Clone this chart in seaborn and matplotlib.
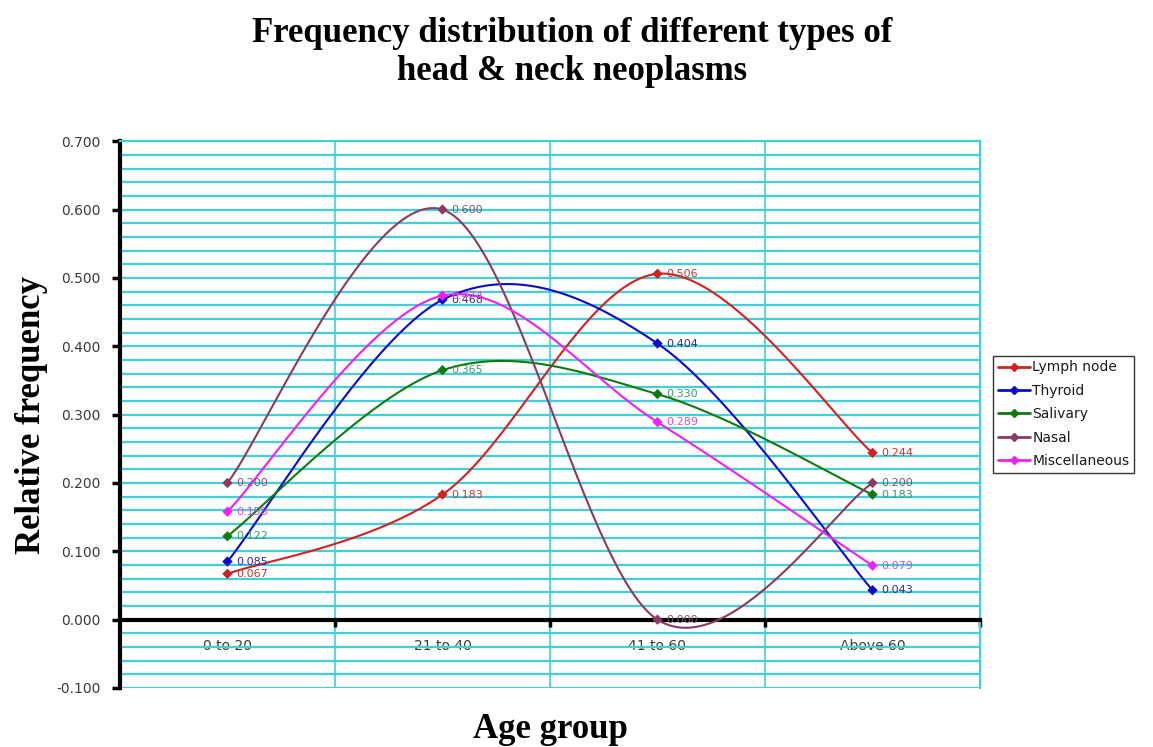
import numpy as np
import pandas as pd
import matplotlib
matplotlib.use("Agg")
import matplotlib.pyplot as plt
import seaborn as sns

# Chart data
age_groups = ["0 to 20", "21 to 40", "41 to 60", "Above 60"]
lymph_node = [0.067, 0.183, 0.506, 0.244]
thyroid = [0.085, 0.468, 0.404, 0.043]
salivary = [0.122, 0.365, 0.330, 0.183]
nasal = [0.200, 0.600, 0.000, 0.200]
misc = [0.158, 0.474, 0.289, 0.079]

series_names = ["Lymph node", "Thyroid", "Salivary", "Nasal", "Miscellaneous"]
series_values = [lymph_node, thyroid, salivary, nasal, misc]
line_colors = ["#D42020", "#0A0ACC", "#0F7A0F", "#8B3A62", "#F020F0"]
label_colors = ["#C03838", "#2A2A9A", "#3A9A6A", "#7A5575", "#D050D0"]

sns.set_style("white")
plt.rcParams['font.family'] = ['DejaVu Sans']

GRID = "#3FD0D8"
SERIF = "Liberation Serif"


def excel_smooth(xs, ys, n=60):
    """Bezier smoothing like Excel's 'smoothed line' (Catmull-Rom, tension 1/6)."""
    pts = np.column_stack([xs, ys]).astype(float)
    out = []
    for i in range(len(pts) - 1):
        p0 = pts[i - 1] if i > 0 else pts[i]
        p1 = pts[i]
        p2 = pts[i + 1]
        p3 = pts[i + 2] if i + 2 < len(pts) else pts[i + 1]
        c1 = p1 + (p2 - p0) / 6
        c2 = p2 - (p3 - p1) / 6
        t = np.linspace(0, 1, n)[:, None]
        seg = ((1 - t) ** 3) * p1 + 3 * ((1 - t) ** 2) * t * c1 + 3 * (1 - t) * t ** 2 * c2 + t ** 3 * p2
        out.append(seg if i == 0 else seg[1:])
    return np.vstack(out)


xpos = np.arange(len(age_groups)) + 0.5

# long-form frames for seaborn
pts_rows, curve_rows = [], []
for name, vals in zip(series_names, series_values):
    for x, v in zip(xpos, vals):
        pts_rows.append({"x": x, "y": v, "series": name})
    for cx, cy in excel_smooth(xpos, vals):
        curve_rows.append({"x": cx, "y": cy, "series": name})
df_pts = pd.DataFrame(pts_rows)
df_curve = pd.DataFrame(curve_rows)
palette = dict(zip(series_names, line_colors))

fig = plt.figure(figsize=(11.53, 7.47), dpi=100)
ax = fig.add_axes([0.104, 0.079, 0.746, 0.732])

sns.lineplot(data=df_curve, x="x", y="y", hue="series", palette=palette, sort=False,
             estimator=None, linewidth=1.5, ax=ax, legend=False, zorder=3)
sns.scatterplot(data=df_pts, x="x", y="y", hue="series", palette=palette, marker="D",
                s=28, edgecolor="none", ax=ax, legend=False, zorder=4)

for name, vals, col in zip(series_names, series_values, label_colors):
    for x, v in zip(xpos, vals):
        ax.text(x + 0.04, v, f"{v:.3f}", color=col, fontsize=8, va="center", ha="left", zorder=5)

ax.set_xlim(0, 4)
ax.set_ylim(-0.1, 0.7)

# y axis
yt = np.arange(-0.1, 0.701, 0.1)
ax.set_yticks(yt)
ax.set_yticklabels([f"{v:.3f}" for v in yt])
ax.set_yticks(np.arange(-0.1, 0.701, 0.02), minor=True)
ax.tick_params(axis="y", which="major", direction="out", length=6, width=2.5, color="black",
               labelsize=10, labelcolor="#3a3a3a", pad=8, left=True)
ax.tick_params(axis="y", which="minor", length=0)

# x axis on the zero line
ax.spines["bottom"].set_position(("data", 0))
ax.spines["bottom"].set_linewidth(3)
ax.spines["bottom"].set_color("black")
ax.set_xticks([1, 2, 3, 4])
ax.set_xticklabels([])
ax.set_xticks(xpos, minor=True)
ax.set_xticklabels(age_groups, minor=True)
ax.tick_params(axis="x", which="major", direction="out", length=5, width=2.5, color="black", bottom=True)
ax.tick_params(axis="x", which="minor", length=0, labelsize=10, labelcolor="#3a3a3a", pad=14)

ax.spines["left"].set_linewidth(3)
ax.spines["left"].set_color("black")
for side in ["top", "right"]:
    ax.spines[side].set_color(GRID)
    ax.spines[side].set_linewidth(1.5)

ax.grid(True, which="both", axis="y", color=GRID, linewidth=1.6)
ax.grid(True, which="major", axis="x", color=GRID, linewidth=1.2)
ax.set_axisbelow(True)
ax.axhline(-0.1, color=GRID, linewidth=2, zorder=1)

ax.set_xlabel("Age group", fontsize=25, fontweight="bold", family=SERIF, color="black")
ax.xaxis.set_label_coords(0.5, -0.045)
ax.set_ylabel("Relative frequency", fontsize=25, fontweight="bold", family=SERIF, color="black")
ax.yaxis.set_label_coords(-0.084, 0.5)

fig.text(0.496, 0.93, "Frequency distribution of different types of\nhead & neck neoplasms",
         ha="center", va="center", fontsize=25, fontweight="bold", family=SERIF,
         linespacing=1.2, color="black")

handles = [plt.Line2D([], [], color=c, marker="D", markersize=4, linewidth=2) for c in line_colors]
leg = fig.legend(handles, series_names, loc="upper left", bbox_to_anchor=(0.861, 0.524),
                 frameon=True, fancybox=False, edgecolor="black", fontsize=10,
                 handlelength=2.3, handletextpad=0.2, borderpad=0.35, labelspacing=0.68,
                 borderaxespad=0)
leg.get_frame().set_linewidth(1)
for txt in leg.get_texts():
    txt.set_color("#1a1a1a")

fig.savefig("out.png", dpi=100, facecolor="white")
